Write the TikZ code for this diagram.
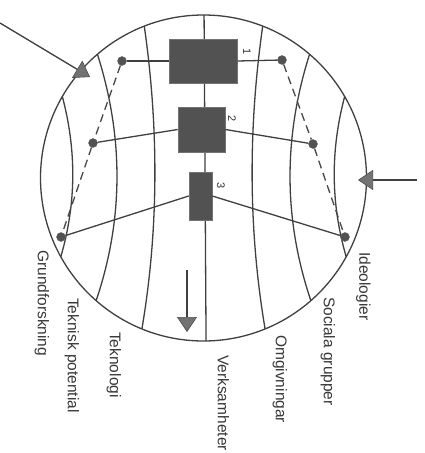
\documentclass[tikz,border=0pt]{standalone}
\usepackage{fontspec}
\setmainfont{Liberation Sans}
\usetikzlibrary{calc,arrows.meta}
\begin{document}
\begin{tikzpicture}[x=1pt,y=-1pt,
  ink/.style={draw=black!75,line width=1.3pt},
  block/.style={draw=black!55,fill=black!68,line width=0.6pt,inner sep=0,minimum width=#1},
  knot/.style={circle,fill=black!68,draw=black!60,inner sep=0,minimum size=9pt},
  dashline/.style={draw=black!72,line width=1.3pt,dash pattern=on 8pt off 5pt},
  flowarrow/.style={draw=black!75,line width=1.3pt,-{Triangle[length=15pt,width=20pt,fill=black!55,color=black!70,line width=0.6pt]}},
  lab/.style={rotate=-90,anchor=west,inner sep=0,font=\fontsize{15.5}{18}\selectfont,text=black!78},
  num/.style={rotate=-90,inner sep=0,font=\fontsize{11}{13}\selectfont,text=black!80}]
\useasboundingbox (0,0) rectangle (424,453);
\fill[white] (0,0) rectangle (424,453);
\coordinate (O) at (203.5,178);
\def\R{163pt}
% outer circle
\draw[ink] (O) circle[radius=163];
% meridian end points on the circle
\coordinate (L1t) at ($(O)+(111.3:\R)$);
\coordinate (L1b) at ($(O)+(247.8:\R)$);
\coordinate (L2t) at ($(O)+(130.6:\R)$);
\coordinate (L2b) at ($(O)+(228.8:\R)$);
\coordinate (L3t) at ($(O)+(150:\R)$);
\coordinate (L3b) at ($(O)+(208.9:\R)$);
\coordinate (R1t) at ($(O)+(68.7:\R)$);
\coordinate (R1b) at ($(O)+(292.2:\R)$);
\coordinate (R2t) at ($(O)+(49.4:\R)$);
\coordinate (R2b) at ($(O)+(311.2:\R)$);
\coordinate (R3t) at ($(O)+(30:\R)$);
\coordinate (R3b) at ($(O)+(331.1:\R)$);
% meridians
\draw[ink] (L1t) .. controls (158.8,128) and (158.8,229) .. (L1b);
\draw[ink] (L2t) .. controls (123.7,137) and (123.7,219) .. (L2b);
\draw[ink] (L3t) .. controls (76.5,150) and (76.5,203) .. (L3b);
\draw[ink] (R1t) .. controls (248.2,128) and (248.2,229) .. (R1b);
\draw[ink] (R2t) .. controls (283.3,137) and (283.3,219) .. (R2b);
\draw[ink] (R3t) .. controls (330.5,150) and (330.5,203) .. (R3b);
% central axis
\coordinate (Ct) at ($(O)+(89.8:\R)$);
\coordinate (Cb) at ($(O)+(270.9:\R)$);
\draw[ink] (Ct) -- (Cb);
% dots
\node[knot] (dL1) at (122,61) {};
\node[knot] (dL2) at (93,143) {};
\node[knot] (dL3) at (61,237) {};
\node[knot] (dR1) at (282,60) {};
\node[knot] (dR2) at (313,144) {};
\node[knot] (dR3) at (345,237) {};
% dashed links
\draw[dashline] (dL1) -- (dL2) -- (dL3);
\draw[dashline] (dR1) -- (dR2) -- (dR3);
% boxes
\node[block=68pt,minimum height=44pt] (b1) at (203,61) {};
\node[block=47pt,minimum height=45pt] (b2) at (201.5,129.5) {};
\node[block=23pt,minimum height=48pt] (b3) at (200.5,196) {};
% connectors
\draw[ink] (dL1) -- (b1.west);
\draw[ink] (b1.east) -- (dR1);
\draw[ink] (b2.west) -- (dL2);
\draw[ink] (b2.east) -- (dR2);
\draw[ink] (b3.west) -- (dL3);
\draw[ink] (b3.east) -- (dR3);
% numbers
\node[num] (n1) at (247,52) {1};
\node[num] (n2) at (232,119) {2};
\node[num] (n3) at (221,186) {3};
% arrows
\coordinate (aLs) at (0,23);
\coordinate (aLe) at (90,77);
\draw[flowarrow] (aLs) -- (aLe);
\coordinate (aRs) at (417,180);
\coordinate (aRe) at (358,180);
\draw[flowarrow] (aRs) -- (aRe);
\coordinate (aDs) at (187,270);
\coordinate (aDe) at (187,332);
\draw[flowarrow] (aDs) -- (aDe);
% labels
\node[lab] (t1) at (363.5,252) {Ideologier};
\node[lab] (t2) at (328,297) {Sociala grupper};
\node[lab] (t3) at (280,335) {Omgivningar};
\node[lab] (t4) at (223.5,355) {Verksamheter};
\node[lab] (t5) at (114,332) {Teknologi};
\node[lab] (t6) at (72,298) {Teknisk potential};
\node[lab] (t7) at (42,250) {Grundforskning};
\end{tikzpicture}
\end{document}
